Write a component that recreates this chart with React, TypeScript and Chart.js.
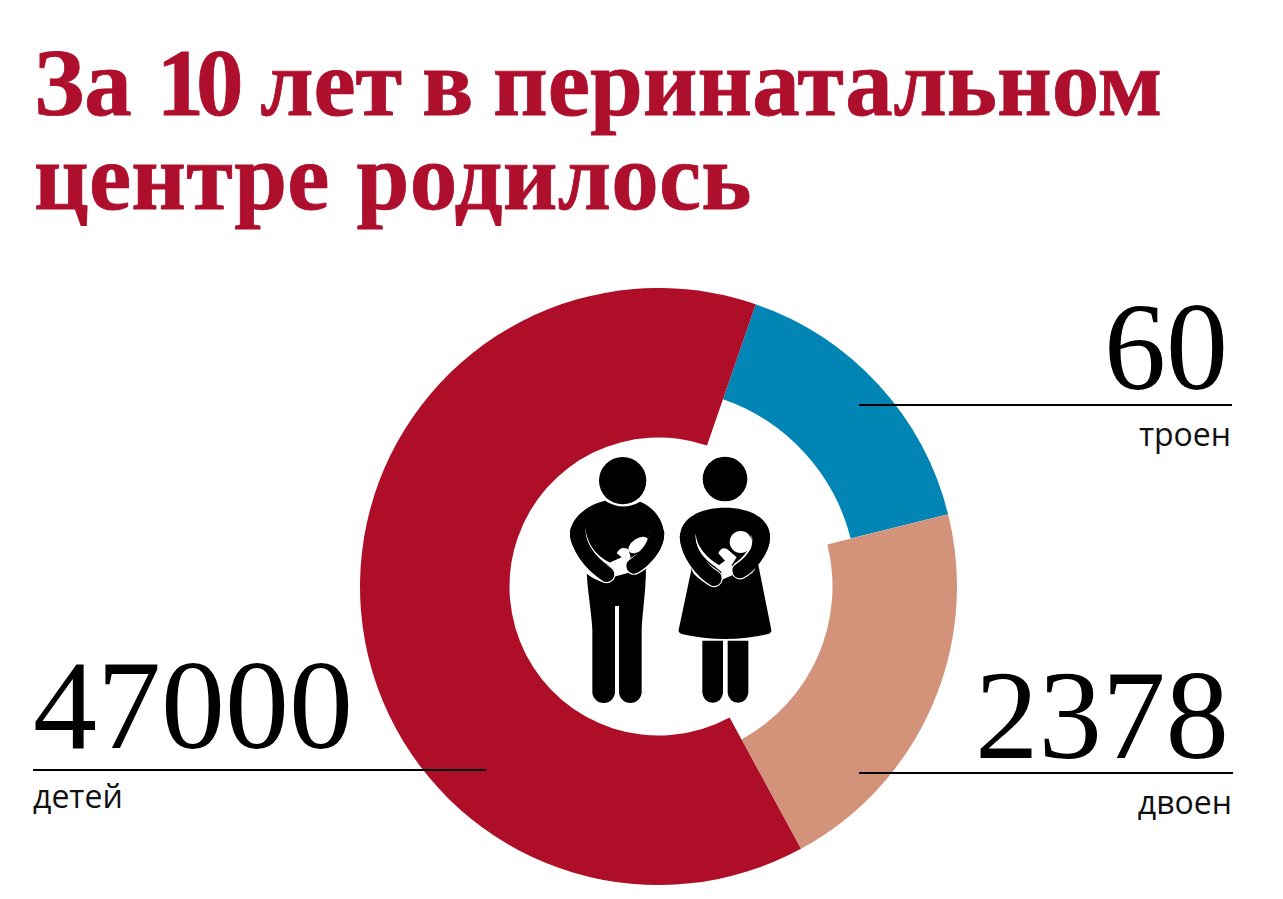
import React, { useEffect, useRef } from "react";
import { Chart, registerables } from "chart.js";

Chart.register(...registerables);

const titleLines = [
  ["За ", "10", " лет в перинатальном"],
  ["центре родилось"],
];
const sliceNames = ["троен", "двоен", "детей"];
const sliceCounts = ["60", "2378", "47000"];
// Arc sizes as drawn in the picture (degrees); the source graphic is not proportional to the counts.
const sliceArcs = [57, 75.5, 227.5];
const sliceColors = ["#0085B4", "#D3937B", "#AE0E28"];
const sliceInnerRadii = [198, 174, 149];

const perSliceInnerRadius = {
  id: "perSliceInnerRadius",
  afterDatasetUpdate(chart: any, args: any) {
    const meta = chart.getDatasetMeta(args.index);
    meta.data.forEach((arc: any, i: number) => {
      arc.innerRadius = sliceInnerRadii[i];
    });
  },
};

const numStyle: React.CSSProperties = {
  position: "absolute",
  fontFamily: '"Liberation Serif", serif',
  color: "#000",
  lineHeight: 1,
  whiteSpace: "nowrap",
};
const labelStyle: React.CSSProperties = {
  position: "absolute",
  fontFamily: '"Open Sans", sans-serif',
  fontSize: 32,
  color: "#111",
  lineHeight: 1,
  whiteSpace: "nowrap",
};
const ruleStyle: React.CSSProperties = { position: "absolute", height: 2, background: "#000" };

function People() {
  const arm = { fill: "none", strokeLinecap: "round" as const };
  return (
    <svg
      viewBox="0 0 720 840"
      width={240}
      height={280}
      style={{ position: "absolute", left: 550, top: 440 }}
    >
      {/* man */}
      <circle cx={218} cy={122} r={71} fill="#000" />
      <path
        d="M110,395 L288,385 C288,450 277,520 275,570 V755 A34,34 0 0 1 207,755 V498 H195 V755 A33,33 0 0 1 127,755 V570 C125,520 112,450 110,395 Z"
        fill="#000"
      />
      <path
        d="M60,285 C60,235 110,195 165,182 Q218,215 270,185 C310,200 342,240 342,285 C342,330 300,380 250,395 L175,400 C110,370 60,330 60,285 Z"
        fill="#000"
      />
      <ellipse cx={265} cy={315} rx={34} ry={19} transform="rotate(-35 265 315)" fill="#fff" />
      <path
        d="M200,340 Q212,316 235,328 L242,350 L228,372 L236,398 L192,410 L190,385 L178,368 L215,352 Z"
        fill="#fff"
      />
      <path d="M106,262 C104,320 150,365 192,386 L197,376 C152,358 112,325 106,262 Z" fill="#fff" />
      <path d="M300,268 C298,312 272,345 232,366 L238,374 C276,352 304,315 300,268 Z" fill="#fff" />
      <path d="M128,382 C140,392 155,398 170,403" stroke="#fff" strokeWidth={53} {...arm} />
      <path d="M272,366 C266,370 260,374 252,378" stroke="#fff" strokeWidth={53} {...arm} />
      <path d="M83,275 C84,320 120,370 170,403" stroke="#000" strokeWidth={46} {...arm} />
      <path d="M320,280 C318,320 285,358 252,378" stroke="#000" strokeWidth={46} {...arm} />

      {/* woman */}
      <circle cx={525} cy={117} r={67} fill="#000" />
      <path
        d="M425,385 L625,375 L663,565 Q668,578 655,582 Q525,612 395,582 Q382,578 387,565 Z"
        fill="#000"
      />
      <path d="M457,602 H519 V757 A31,31 0 0 1 457,757 Z" fill="#000" />
      <path d="M533,602 H595 V757 A31,31 0 0 1 533,757 Z" fill="#000" />
      <path
        d="M390,290 C390,235 450,203 525,203 C600,203 660,235 660,290 C660,340 620,385 560,400 L490,410 C430,380 390,340 390,290 Z"
        fill="#000"
      />
      <circle cx={572} cy={306} r={33} fill="#fff" />
      <path
        d="M505,340 Q515,318 532,328 L560,352 L545,375 L556,402 L514,420 L514,395 L498,382 L525,362 Z"
        fill="#fff"
      />
      <path d="M437,280 C430,330 475,370 514,392 L520,382 C478,362 440,325 437,280 Z" fill="#fff" />
      <path d="M605,283 C606,320 585,350 552,372 L558,380 C592,355 614,325 605,283 Z" fill="#fff" />
      <path d="M452,385 C465,398 478,406 492,415" stroke="#fff" strokeWidth={53} {...arm} />
      <path d="M590,378 C585,382 578,388 570,392" stroke="#fff" strokeWidth={53} {...arm} />
      <path d="M412,290 C415,345 460,395 492,415" stroke="#000" strokeWidth={46} {...arm} />
      <path d="M637,290 C637,330 600,375 570,392" stroke="#000" strokeWidth={46} {...arm} />
    </svg>
  );
}

export default function App() {
  const canvasRef = useRef<HTMLCanvasElement | null>(null);

  useEffect(() => {
    const chart = new Chart(canvasRef.current as HTMLCanvasElement, {
      type: "doughnut",
      data: {
        labels: sliceNames,
        datasets: [
          {
            data: sliceArcs,
            backgroundColor: sliceColors,
            borderWidth: 0,
          },
        ],
      },
      options: {
        responsive: false,
        animation: false,
        rotation: 19,
        cutout: 149,
        layout: { padding: 0 },
        plugins: { legend: { display: false }, tooltip: { enabled: false } },
      },
      plugins: [perSliceInnerRadius],
    } as any);
    return () => chart.destroy();
  }, []);

  return (
    <div
      style={{
        position: "absolute",
        left: 0,
        top: 0,
        width: 1283,
        height: 899,
        overflow: "hidden",
        background: "#fff",
      }}
    >
      <canvas
        ref={canvasRef}
        width={597}
        height={597}
        style={{ position: "absolute", left: 360, top: 288, width: 597, height: 597 }}
      />
      {titleLines.map((parts, i) => (
        <div
          key={i}
          style={{
            position: "absolute",
            left: 34,
            top: 33 + i * 94,
            fontFamily: '"Liberation Serif", serif',
            fontWeight: 700,
            fontSize: 95,
            lineHeight: "100px",
            color: "#AE0F2C",
            whiteSpace: "nowrap",
            WebkitTextStroke: "0.8px #AE0F2C",
            wordSpacing: i === 0 ? -4 : 3,
            letterSpacing: i === 0 ? 0 : 0.2,
          }}
        >
          {parts.map((part, j) => (
            <span
              key={j}
              style={/^\d+$/.test(part) ? { letterSpacing: -8, marginLeft: 5, marginRight: 5 } : undefined}
            >
              {part}
            </span>
          ))}
        </div>
      ))}
      <People />

      <div style={{ ...numStyle, right: 1283 - 1228, top: 286, fontSize: 124 }}>{sliceCounts[0]}</div>
      <div style={{ ...ruleStyle, left: 859, top: 404, width: 373 }} />
      <div style={{ ...labelStyle, right: 1283 - 1231, top: 418 }}>{sliceNames[0]}</div>

      <div style={{ ...numStyle, right: 1283 - 1229, top: 652, fontSize: 127 }}>{sliceCounts[1]}</div>
      <div style={{ ...ruleStyle, left: 859, top: 772, width: 374 }} />
      <div style={{ ...labelStyle, right: 1283 - 1232, top: 786 }}>{sliceNames[1]}</div>

      <div style={{ ...numStyle, left: 33, top: 641, fontSize: 128 }}>{sliceCounts[2]}</div>
      <div style={{ ...ruleStyle, left: 33, top: 769, width: 453 }} />
      <div style={{ ...labelStyle, left: 33, top: 780 }}>{sliceNames[2]}</div>
    </div>
  );
}
